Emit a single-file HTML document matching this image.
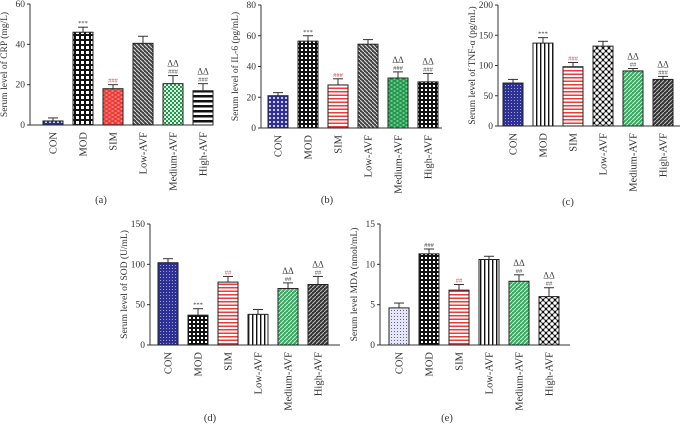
<!DOCTYPE html>
<html><head><meta charset="utf-8"><style>
html,body{margin:0;padding:0;background:#fff;}
svg{display:block;}
svg text{font-family:"Liberation Serif",serif;}
</style></head><body>
<svg id="fig" width="681" height="428" viewBox="0 0 681 428" xmlns="http://www.w3.org/2000/svg">
<defs>
<pattern id="p-navy-grid" width="4" height="4" patternUnits="userSpaceOnUse"><rect width="4" height="4" fill="#2e3192"/><rect x="1" y="1" width="2" height="2" fill="#c8c9ef"/></pattern>
<pattern id="p-navy-dots" width="3" height="3" patternUnits="userSpaceOnUse"><rect width="3" height="3" fill="#2e3192"/><rect x="1" y="1" width="1" height="1" fill="#9ea0e0"/></pattern>
<pattern id="p-navy-light" width="3" height="3" patternUnits="userSpaceOnUse"><rect width="3" height="3" fill="#e6e6f6"/><rect x="1" y="1" width="1" height="1" fill="#5a5db0"/></pattern>
<pattern id="p-black-grid" width="5" height="5" patternUnits="userSpaceOnUse"><rect width="5" height="5" fill="#111"/><rect x="1" y="1" width="3" height="3" fill="#fff"/></pattern>
<pattern id="p-black-dots" width="4" height="4" patternUnits="userSpaceOnUse"><rect width="4" height="4" fill="#111"/><rect x="1" y="1" width="2" height="2" fill="#fff"/></pattern>
<pattern id="p-black-diag" width="4" height="4" patternUnits="userSpaceOnUse"><rect width="4" height="4" fill="#444"/><path d="M0,0L4,4" stroke="#ddd" stroke-width="1"/></pattern>
<pattern id="p-black-hstripe" width="4" height="5" patternUnits="userSpaceOnUse"><rect width="4" height="5" fill="#fff"/><rect y="0" width="4" height="2.5" fill="#111"/></pattern>
<pattern id="p-black-vstripe" width="4" height="4" patternUnits="userSpaceOnUse"><rect width="4" height="4" fill="#fff"/><rect width="1.4" height="4" fill="#111"/></pattern>
<pattern id="p-black-check" width="6" height="6" patternUnits="userSpaceOnUse"><rect width="6" height="6" fill="#111"/><circle cx="3" cy="3" r="1.8" fill="#fff"/><circle cx="0" cy="0" r="1.8" fill="#fff"/><circle cx="6" cy="0" r="1.8" fill="#fff"/><circle cx="0" cy="6" r="1.8" fill="#fff"/><circle cx="6" cy="6" r="1.8" fill="#fff"/></pattern>
<pattern id="p-red-brick" width="6" height="4" patternUnits="userSpaceOnUse"><rect width="6" height="4" fill="#ee3b36"/><rect x="0.5" y="0.5" width="2" height="1" fill="#f9c0be"/><rect x="3.5" y="2.5" width="2" height="1" fill="#f9c0be"/></pattern>
<pattern id="p-red-hstripe" width="4" height="3.5" patternUnits="userSpaceOnUse"><rect width="4" height="3.5" fill="#fff"/><rect width="4" height="1.5" fill="#ee3b36"/></pattern>
<pattern id="p-green-check" width="4" height="4" patternUnits="userSpaceOnUse"><rect width="4" height="4" fill="#1f9a4b"/><rect width="2" height="2" fill="#dff3e5"/><rect x="2" y="2" width="2" height="2" fill="#dff3e5"/></pattern>
<pattern id="p-green-brick" width="6" height="4" patternUnits="userSpaceOnUse"><rect width="6" height="4" fill="#1f9a4b"/><rect x="0.5" y="0.5" width="2" height="1" fill="#c7ecd3"/><rect x="3.5" y="2.5" width="2" height="1" fill="#c7ecd3"/></pattern>
<pattern id="p-green-diag" width="4" height="4" patternUnits="userSpaceOnUse"><rect width="4" height="4" fill="#3aa862"/><path d="M0,4L4,0" stroke="#c9ecd4" stroke-width="1"/></pattern>
<pattern id="p-black-diag2" width="4" height="4" patternUnits="userSpaceOnUse"><rect width="4" height="4" fill="#333"/><path d="M0,4L4,0" stroke="#bbb" stroke-width="1"/></pattern>
</defs>
</svg>
<script>
const categories = ["CON","MOD","SIM","Low-AVF","Medium-AVF","High-AVF"];
const crpValues = [2, 46, 18, 40.5, 20.5, 17];
const crpErrors = [1.5, 2.5, 2, 3.5, 4, 3.5];
const il6Values = [21, 56.5, 28, 54.5, 32.5, 30];
const il6Errors = [2, 3.5, 4, 3, 4, 5.5];
const tnfValues = [71, 137, 98, 132, 91, 77];
const tnfErrors = [6, 9, 7, 8, 4, 5];
const sodValues = [102, 37, 78, 38, 70, 75];
const sodErrors = [5, 8, 7, 6, 7, 10];
const mdaValues = [4.6, 11.3, 6.8, 10.6, 7.9, 6];
const mdaErrors = [0.6, 0.6, 0.7, 0.4, 0.8, 1.1];
const crpMarks = ["", "***", "###", "", "ΔΔ|###", "ΔΔ|###"];
const il6Marks = ["", "***", "###", "", "ΔΔ|###", "ΔΔ|###"];
const tnfMarks = ["", "***", "###", "", "ΔΔ|##", "ΔΔ|###"];
const sodMarks = ["", "***", "##", "", "ΔΔ|##", "ΔΔ|##"];
const mdaMarks = ["", "###", "##", "", "ΔΔ|##", "ΔΔ|##"];
const crpTicks = [0, 20, 40, 60];
const il6Ticks = [0, 20, 40, 60, 80];
const tnfTicks = [0, 50, 100, 150, 200];
const sodTicks = [0, 50, 100, 150];
const mdaTicks = [0, 5, 10, 15];

const NS = "http://www.w3.org/2000/svg";
const svg = document.getElementById("fig");
function mk(tag, attrs, parent) {
  const e = document.createElementNS(NS, tag);
  for (const k in attrs) e.setAttribute(k, attrs[k]);
  (parent || svg).appendChild(e);
  return e;
}

const panels = [
  {id:"a", ax:30, top:4, bottom:125, right:210, bar0:43, vals:crpValues, errs:crpErrors, marks:crpMarks, ticks:crpTicks,
   title:"Serum level of CRP (mg/L)", cap:"(a)", capX:101, capY:203,
   fills:["p-navy-grid","p-black-grid","p-red-brick","p-black-diag","p-green-check","p-black-hstripe"]},
  {id:"b", ax:261, top:5, bottom:128, right:442, bar0:268, vals:il6Values, errs:il6Errors, marks:il6Marks, ticks:il6Ticks,
   title:"Serum level of IL-6 (pg/mL)", cap:"(b)", capX:327, capY:203,
   fills:["p-navy-grid","p-black-dots","p-red-hstripe","p-black-diag","p-green-brick","p-black-dots"]},
  {id:"c", ax:498, top:5, bottom:126, right:680, bar0:503, vals:tnfValues, errs:tnfErrors, marks:tnfMarks, ticks:tnfTicks,
   title:"Serum level of TNF-α (pg/mL)", cap:"(c)", capX:568, capY:205,
   fills:["p-navy-dots","p-black-vstripe","p-red-hstripe","p-black-check","p-green-diag","p-black-diag2"]},
  {id:"d", ax:150, top:224, bottom:345, right:340, bar0:158, vals:sodValues, errs:sodErrors, marks:sodMarks, ticks:sodTicks,
   title:"Serum level of SOD (U/mL)", cap:"(d)", capX:210, capY:421,
   fills:["p-navy-dots","p-black-dots","p-red-hstripe","p-black-vstripe","p-green-diag","p-black-diag2"]},
  {id:"e", ax:380, top:224, bottom:345, right:570, bar0:389, vals:mdaValues, errs:mdaErrors, marks:mdaMarks, ticks:mdaTicks,
   title:"Serum level MDA (nmol/mL)", cap:"(e)", capX:447, capY:421,
   fills:["p-navy-light","p-black-dots","p-red-hstripe","p-black-vstripe","p-green-diag","p-black-check"]}
];
const markColors = ["#444","#444","#d44","#444","#444","#444"];

panels.forEach(p => {
  const g = mk("g", {});
  
  
  const maxV = p.ticks[p.ticks.length - 1];
  const y = v => p.bottom - (v / maxV) * (p.bottom - p.top);
  const bw = 20, pitch = 30;
  const xb = i => p.bar0 + i * pitch;
  const ya = mk("line", {x1:p.ax, y1:p.top, x2:p.ax, y2:p.bottom, stroke:"#333", "stroke-width":1}, g);
  
  
  const xa = mk("line", {x1:p.ax, y1:p.bottom, x2:p.right, y2:p.bottom, stroke:"#333", "stroke-width":1}, g);
  
  
  p.ticks.forEach(t => {
    mk("line", {x1:p.ax-3, y1:y(t), x2:p.ax, y2:y(t), stroke:"#333"}, g);
    const tl = mk("text", {x:p.ax-5, y:y(t)+3, "text-anchor":"end", "font-size":9.5, fill:"#333"}, g);
    tl.textContent = t;
    
    
  });
  const tt = mk("text", {transform:`translate(${p.ax-23},${(p.top+p.bottom)/2}) rotate(-90)`, "text-anchor":"middle", "font-size":9.5, fill:"#333"}, g);
  tt.textContent = p.title;
  
  
  categories.forEach((c, i) => {
    const x = xb(i), cx = x + bw/2;
    const v = p.vals[i], e = p.errs[i];
    mk("line", {x1:cx, y1:y(v), x2:cx, y2:y(v+e), stroke:"#333", "stroke-width":1}, g);
    mk("line", {x1:cx-5, y1:y(v+e), x2:cx+5, y2:y(v+e), stroke:"#333", "stroke-width":1}, g);
    const r = mk("rect", {x:x, y:y(v), width:bw, height:p.bottom - y(v), fill:`url(#${p.fills[i]})`, stroke:"#222", "stroke-width":1}, g);
    
    
    const lab = mk("text", {transform:`translate(${cx+3.5},${p.bottom+7}) rotate(-90)`, "text-anchor":"end", "font-size":10.5, fill:"#333"}, g);
    lab.textContent = c;
    
    
    if (p.marks[i]) {
      const parts = p.marks[i].split("|").reverse();
      parts.forEach((m, k) => {
        const isD = m.indexOf("Δ") >= 0;
        const mt = mk("text", {x:cx, y:y(v+e) - 2 - k*7, "text-anchor":"middle", "font-size": isD ? 9 : 6.5, fill:markColors[i]}, g);
        mt.textContent = m;
        
        
      });
    }
  });
  const cp = mk("text", {x:p.capX, y:p.capY, "text-anchor":"middle", "font-size":10.5, fill:"#333"}, g);
  cp.textContent = p.cap;
  
  
});
</script>
</body></html>
